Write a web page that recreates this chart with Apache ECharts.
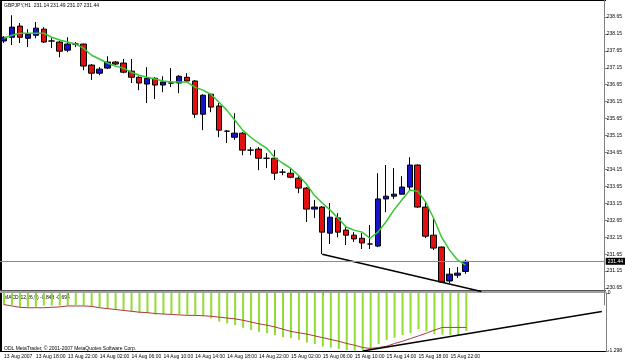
<!DOCTYPE html>
<html>
<head>
<meta charset="utf-8">
<script src="https://cdn.jsdelivr.net/npm/echarts@6/dist/echarts.min.js"></script>
<style>
html, body { margin: 0; padding: 0; background: #fff; }
#chart { width: 625px; height: 362px; }
</style>
</head>
<body>
<div id="chart"></div>
<script>
var myChart = echarts.init(document.getElementById('chart'));

// GBPJPY H1, 13 Aug 2007 14:00 .. 16 Aug 2007 00:00
var opens  = [237.94, 238.05, 238.38, 238.02, 238.11, 238.29, 237.94, 237.91, 237.67, 237.85,
              237.85, 237.23, 236.99, 237.14, 237.32, 237.29, 237.05, 236.87, 236.67, 236.84,
              236.64, 236.70, 236.70, 236.87, 236.76, 235.78, 236.37, 236.02, 235.28, 235.10,
              235.22, 234.72, 234.75, 234.48, 234.48, 234.07, 234.04, 233.89, 233.60, 232.98,
              233.04, 232.27, 232.72, 232.36, 232.21, 232.12, 231.95, 231.89, 233.28, 233.36,
              233.42, 233.63, 234.28, 233.04, 232.21, 231.86, 230.86, 231.03, 231.14];
var closes = [238.05, 238.35, 238.05, 238.14, 238.32, 237.91, 237.94, 237.64, 237.85, 237.85,
              237.20, 236.99, 237.11, 237.32, 237.26, 237.02, 236.87, 236.70, 236.84, 236.64,
              236.73, 236.70, 236.90, 236.76, 235.78, 236.34, 235.99, 235.31, 235.28, 235.22,
              234.72, 234.72, 234.48, 234.48, 234.04, 234.07, 233.92, 233.60, 232.98, 233.04,
              232.30, 232.74, 232.30, 232.21, 232.10, 231.98, 231.95, 233.28, 233.36, 233.42,
              233.63, 234.28, 233.04, 232.18, 231.83, 230.83, 231.06, 231.09, 231.44];
var lows   = [237.88, 237.82, 237.88, 237.76, 238.02, 237.88, 237.73, 237.46, 237.61, 237.76,
              237.08, 236.79, 236.93, 237.11, 237.23, 236.99, 236.70, 236.49, 236.11, 236.23,
              236.43, 236.58, 236.40, 236.73, 235.67, 235.31, 235.84, 235.10, 234.93, 235.02,
              234.57, 234.57, 234.13, 234.19, 233.84, 233.98, 233.89, 233.45, 232.60, 232.72,
              231.65, 231.95, 232.15, 231.92, 232.01, 231.80, 231.80, 231.86, 232.89, 233.28,
              233.40, 233.54, 233.01, 232.12, 231.77, 230.80, 230.80, 230.95, 231.07];
var highs  = [238.08, 238.70, 238.47, 238.29, 238.50, 238.35, 238.05, 237.94, 238.05, 237.91,
              237.86, 237.26, 237.17, 237.49, 237.35, 237.41, 237.41, 236.90, 237.17, 236.87,
              236.90, 237.14, 236.93, 236.99, 236.79, 236.37, 236.40, 236.11, 235.31, 235.81,
              235.25, 234.81, 234.81, 234.63, 234.72, 234.16, 234.16, 233.95, 233.63, 233.25,
              233.07, 233.16, 232.86, 232.45, 232.30, 232.27, 232.51, 234.04, 234.28, 234.19,
              233.95, 234.51, 234.30, 233.22, 232.74, 231.88, 231.24, 231.27, 231.49];
var maLine = [238.02, 238.11, 238.17, 238.17, 238.17, 238.17, 238.05, 237.97, 237.91, 237.85,
              237.73, 237.52, 237.41, 237.29, 237.20, 237.14, 237.02, 236.93, 236.87, 236.82,
              236.76, 236.73, 236.73, 236.73, 236.58, 236.49, 236.37, 236.14, 235.90, 235.61,
              235.31, 235.10, 234.93, 234.78, 234.51, 234.34, 234.19, 233.98, 233.72, 233.39,
              233.16, 232.95, 232.71, 232.45, 232.36, 232.30, 232.12, 232.30, 232.60, 232.95,
              233.25, 233.54, 233.51, 233.19, 232.71, 232.15, 231.77, 231.48, 231.33];
var macdHist = [-0.27, -0.27, -0.31, -0.31, -0.31, -0.28, -0.28, -0.28, -0.28, -0.27,
                -0.28, -0.31, -0.33, -0.36, -0.38, -0.40, -0.42, -0.45, -0.45, -0.48,
                -0.48, -0.48, -0.48, -0.49, -0.49, -0.51, -0.57, -0.64, -0.68, -0.72,
                -0.78, -0.83, -0.87, -0.90, -0.94, -0.99, -1.01, -1.05, -1.11, -1.14,
                -1.20, -1.22, -1.25, -1.28, -1.29, -1.29, -1.24, -1.14, -1.05, -1.00,
                -0.94, -0.90, -0.81, -0.86, -0.92, -0.93, -0.94, -0.94, -0.85];
var macdSignal = [-0.26, -0.29, -0.32, -0.33, -0.33, -0.33, -0.32, -0.31, -0.29, -0.29,
                  -0.29, -0.30, -0.33, -0.35, -0.37, -0.39, -0.41, -0.43, -0.44, -0.46,
                  -0.47, -0.48, -0.49, -0.50, -0.50, -0.51, -0.52, -0.54, -0.56, -0.58,
                  -0.61, -0.65, -0.69, -0.72, -0.76, -0.81, -0.86, -0.89, -0.92, -0.96,
                  -1.00, -1.04, -1.08, -1.13, -1.17, -1.22, -1.24, -1.22, -1.19, -1.13,
                  -1.08, -1.02, -0.96, -0.90, -0.83, -0.77, -0.77, -0.77, -0.77];
var tickLabels = ['13 Aug 2007', '13 Aug 18:00', '13 Aug 22:00', '14 Aug 02:00', '14 Aug 06:00',
                  '14 Aug 10:00', '14 Aug 14:00', '14 Aug 18:00', '14 Aug 22:00', '15 Aug 02:00',
                  '15 Aug 06:00', '15 Aug 10:00', '15 Aug 14:00', '15 Aug 18:00', '15 Aug 22:00'];
var lastPrice = 231.44;
// trend lines: [bar index, value]
var priceTrend = [[40, 231.65], [60, 230.55]];
var macdTrend = [[45, -1.298], [75, -0.414]];

// bar slots (chart keeps empty space on the right like the terminal)
var slots = [];
for (var i = 0; i < 76; i++) slots.push(i);

var candles = [];
for (var i = 0; i < opens.length; i++) {
    candles.push([opens[i], closes[i], lows[i], highs[i]]);
}

var font = 'Liberation Sans';
var showTick = function (idx) { return idx % 4 === 0 && idx / 4 < tickLabels.length; };

option = {
    animation: false,
    backgroundColor: '#fff',
    textStyle: { fontFamily: font },
    grid: [
        { left: -2, right: 19, top: 0, height: 305 },
        { left: -2, right: 19, top: 293, height: 58 }
    ],
    xAxis: [
        {
            type: 'category', gridIndex: 0, data: slots, boundaryGap: true,
            axisLine: { show: false }, axisTick: { show: false }, axisLabel: { show: false },
            splitLine: { show: false }
        },
        {
            type: 'category', gridIndex: 1, data: slots, boundaryGap: true,
            axisLine: { show: false },
            axisTick: {
                show: true, length: 2, alignWithLabel: true, interval: showTick,
                lineStyle: { color: '#000' }
            },
            axisLabel: {
                show: true, fontSize: 5, fontFamily: font, color: '#000', align: 'left', margin: 3,
                interval: showTick,
                formatter: function (v, idx) { return tickLabels[idx / 4] || ''; }
            },
            splitLine: { show: false }
        }
    ],
    yAxis: [
        {
            type: 'value', gridIndex: 0, position: 'right', scale: true,
            min: 230.15, max: 239.15, interval: 0.5,
            axisLine: { show: true, lineStyle: { color: '#808080' } },
            axisTick: { show: true, length: 3, lineStyle: { color: '#808080' } },
            axisLabel: {
                fontSize: 5, fontFamily: font, color: '#000', margin: 2,
                showMinLabel: false, showMaxLabel: false,
                formatter: function (v) { return v.toFixed(2); }
            },
            splitLine: { show: false }
        },
        {
            type: 'value', gridIndex: 1, position: 'right',
            min: -1.298, max: 0, interval: 1.298,
            axisLine: { show: true, lineStyle: { color: '#808080' } },
            axisTick: { show: true, length: 3, lineStyle: { color: '#808080' } },
            axisLabel: {
                fontSize: 5, fontFamily: font, color: '#000', margin: 2,
                formatter: function (v) { return v === 0 ? '0' : v.toFixed(3); }
            },
            splitLine: { show: false }
        }
    ],
    series: [
        {
            name: 'GBPJPY', type: 'candlestick', xAxisIndex: 0, yAxisIndex: 0,
            data: candles, barWidth: 6,
            itemStyle: {
                color: '#1414c8', color0: '#e01010',
                borderColor: '#000', borderColor0: '#000', borderColorDoji: '#000',
                borderWidth: 1
            },
            markLine: {
                silent: true, symbol: 'none', animation: false,
                data: [
                    [
                        { coord: priceTrend[0], lineStyle: { color: '#000', width: 1.5, type: 'solid' }, label: { show: false } },
                        { coord: priceTrend[1] }
                    ],
                    {
                        yAxis: lastPrice,
                        lineStyle: { color: '#8c8c8c', width: 1, type: 'solid' },
                        label: {
                            show: true, position: 'end', distance: 1,
                            formatter: lastPrice.toFixed(2),
                            fontSize: 5, fontFamily: font, color: '#fff',
                            backgroundColor: '#000', padding: [1, 2]
                        }
                    }
                ]
            }
        },
        {
            name: 'MA', type: 'line', xAxisIndex: 0, yAxisIndex: 0,
            data: maLine, showSymbol: false, symbol: 'none',
            lineStyle: { color: '#32c832', width: 1.5 }, z: 3
        },
        {
            name: 'MACD', type: 'bar', xAxisIndex: 1, yAxisIndex: 1,
            data: macdHist, barWidth: 2,
            itemStyle: { color: '#94dc30' },
            markLine: {
                silent: true, symbol: 'none', animation: false,
                data: [
                    [
                        { coord: macdTrend[0], lineStyle: { color: '#000', width: 1.5, type: 'solid' }, label: { show: false } },
                        { coord: macdTrend[1] }
                    ]
                ]
            }
        },
        {
            name: 'Signal', type: 'line', xAxisIndex: 1, yAxisIndex: 1,
            data: macdSignal, showSymbol: false, symbol: 'none',
            lineStyle: { color: '#a83c3c', width: 1 }, z: 3
        }
    ],
    graphic: [
        { type: 'line', shape: { x1: 0, y1: 0.5, x2: 606, y2: 0.5 }, style: { stroke: '#000', lineWidth: 1 } },
        { type: 'line', shape: { x1: 1, y1: 0, x2: 1, y2: 352 }, style: { stroke: '#000', lineWidth: 2 } },
        { type: 'line', shape: { x1: 0, y1: 290.5, x2: 606, y2: 290.5 }, style: { stroke: '#555', lineWidth: 1 } },
        { type: 'line', shape: { x1: 0, y1: 292, x2: 606, y2: 292 }, style: { stroke: '#a0a0a0', lineWidth: 2 } },
        { type: 'line', shape: { x1: 0, y1: 351.5, x2: 606, y2: 351.5 }, style: { stroke: '#000', lineWidth: 1 } },
        { type: 'text', left: 4, top: 3, style: { text: 'GBPJPY,H1  231.14 231.49 231.07 231.44', fontSize: 5, fontFamily: font, fill: '#000' } },
        { type: 'text', left: 4, top: 295, style: { text: 'MACD(12,26,9) -0.848 -0.694', fontSize: 5, fontFamily: font, fill: '#000' } },
        { type: 'text', left: 4, top: 346, style: { text: 'ODL MetaTrader, \u00a9 2001-2007 MetaQuotes Software Corp.', fontSize: 5, fontFamily: font, fill: '#000' } }
    ]
};

myChart.setOption(option);
</script>
</body>
</html>
